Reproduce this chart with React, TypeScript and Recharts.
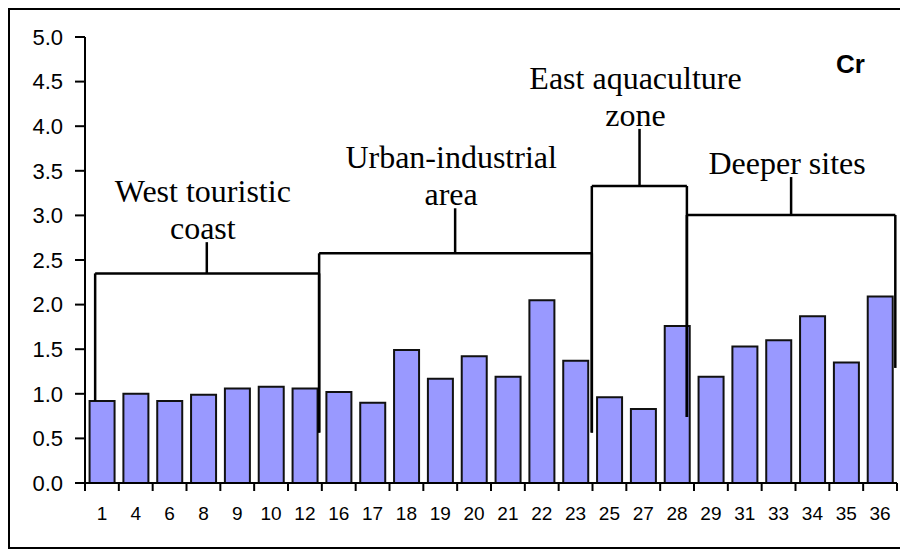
import { BarChart, Bar, XAxis, YAxis, ReferenceLine } from 'recharts'

const sites = ['1', '4', '6', '8', '9', '10', '12', '16', '17', '18', '19', '20', '21', '22', '23', '25', '27', '28', '29', '31', '33', '34', '35', '36']
const crValues = [0.92, 1.0, 0.92, 0.99, 1.06, 1.08, 1.06, 1.02, 0.9, 1.49, 1.17, 1.42, 1.19, 2.05, 1.37, 0.96, 0.83, 1.76, 1.19, 1.53, 1.6, 1.87, 1.35, 2.09]
const yTicks = [0, 0.5, 1, 1.5, 2, 2.5, 3, 3.5, 4, 4.5, 5]

// cluster brackets, in axis units (x = category index, y = Cr)
const groupNames = [['West touristic', 'coast'], ['Urban-industrial', 'area'], ['East aquaculture', 'zone'], ['Deeper sites']]
const groupLeft = [0.3, 6.92, 14.98, 17.79]
const groupRight = [6.92, 14.98, 17.79, 23.95]
const groupLevel = [2.35, 2.575, 3.33, 3.005]
const leftFoot = [0.92, 0.565, 0.565, 0.74]
const rightFoot = [0.565, 0.565, 0.74, 1.29]
const stemX = [3.6, 10.94, 16.39, 20.87]
const stemTop = [2.7, 3.08, 3.97, 3.43]

// pos = middle of each site's slot on the hidden numeric axis
const data = sites.map((site, i) => ({ site, cr: crValues[i], pos: i + 0.5 }))

const TICK_SIZE = 8
const TICK_MARGIN = 16
const SANS = '"Liberation Sans", Arial, sans-serif'
const SERIF = '"Liberation Serif", "Times New Roman", serif'

function SiteTick(props: any) {
  const { x, y, payload, index, visibleTicksCount, width } = props
  const half = payload.offset ?? width / visibleTicksCount / 2
  const axisY = y - TICK_SIZE - TICK_MARGIN
  return (
    <g>
      <line x1={x - half} x2={x - half} y1={axisY} y2={axisY + TICK_SIZE} stroke="#000" strokeWidth={2} />
      {index === visibleTicksCount - 1 && (
        <line x1={x + half} x2={x + half} y1={axisY} y2={axisY + TICK_SIZE} stroke="#000" strokeWidth={2} />
      )}
      <text x={x} y={y} dy="0.71em" textAnchor="middle" fontSize={19} fontFamily={SANS} fill="#000">
        {payload.value}
      </text>
    </g>
  )
}

function groupLabel(lines: string[]) {
  return (props: any) => {
    const vb = props.viewBox
    const cx = vb.x - 4
    return (
      <text textAnchor="middle" fontSize={32} fontFamily={SERIF} fill="#000">
        {lines.map((l, i) => (
          <tspan key={l} x={cx} y={vb.y - 3 - (lines.length - 1 - i) * 37}>{l}</tspan>
        ))}
      </text>
    )
  }
}

export default function App() {
  const line = { stroke: '#000', strokeWidth: 2.5, ifOverflow: 'visible' as const, xAxisId: 'n' }
  return (
    <div style={{ position: 'relative', width: 900, height: 541, border: '2px solid #000', boxSizing: 'border-box', background: '#fff' }}>
      <BarChart width={896} height={537} data={data} margin={{ top: 27, right: 9, left: 0, bottom: 0 }} barCategoryGap="13.5%">
        <XAxis xAxisId="c" dataKey="site" height={64} interval={0} tickSize={TICK_SIZE} tickMargin={TICK_MARGIN}
          axisLine={{ stroke: '#000', strokeWidth: 2 }} tickLine={false} tick={<SiteTick />} />
        <XAxis xAxisId="n" dataKey="pos" type="number" scale="linear" domain={[0, sites.length]} allowDataOverflow hide height={0} />
        <YAxis domain={[0, 5]} ticks={yTicks} interval={0} width={75} tickSize={10} tickMargin={12}
          tickFormatter={(v: number) => v.toFixed(1)}
          axisLine={{ stroke: '#000', strokeWidth: 2 }} tickLine={{ stroke: '#000', strokeWidth: 2 }}
          tick={{ fill: '#000', fontSize: 22, fontFamily: SANS }} />
        <Bar xAxisId="c" dataKey="cr" fill="#9999ff" stroke="#111" strokeWidth={2} isAnimationActive={false} />
        {groupNames.map((names, i) => [
          <ReferenceLine key={`h${i}`} {...line} segment={[{ x: groupLeft[i], y: groupLevel[i] }, { x: groupRight[i], y: groupLevel[i] }]} />,
          <ReferenceLine key={`l${i}`} {...line} segment={[{ x: groupLeft[i], y: leftFoot[i] }, { x: groupLeft[i], y: groupLevel[i] }]} />,
          <ReferenceLine key={`r${i}`} {...line} segment={[{ x: groupRight[i], y: rightFoot[i] }, { x: groupRight[i], y: groupLevel[i] }]} />,
          <ReferenceLine key={`s${i}`} {...line} segment={[{ x: stemX[i], y: groupLevel[i] }, { x: stemX[i], y: stemTop[i] }]}
            label={groupLabel(names)} />,
        ])}
      </BarChart>
      <div style={{ position: 'absolute', left: 826, top: 41, font: `bold 26px ${SANS}`, lineHeight: '26px' }}>Cr</div>
    </div>
  )
}
